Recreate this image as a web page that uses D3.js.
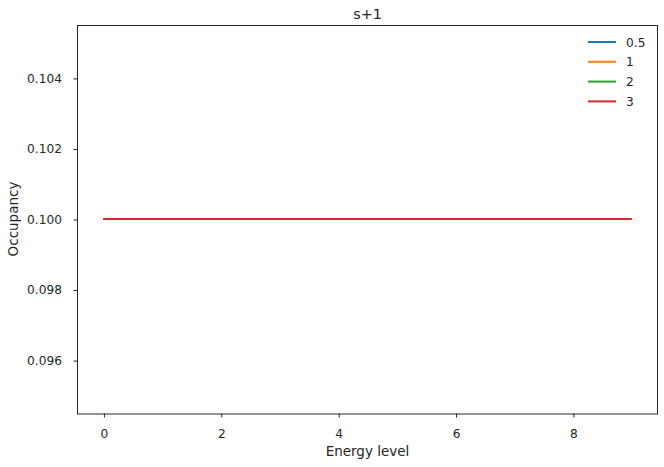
<!DOCTYPE html>
<html><head><meta charset="utf-8">
<script src="https://cdn.jsdelivr.net/npm/d3@7"></script>
<style>body{margin:0;background:#fff}svg text{font-family:"DejaVu Sans",sans-serif;fill:#262626}</style>
</head><body><svg id="c" width="664" height="467"></svg>
<script>
const energyLevels = [0,1,2,3,4,5,6,7,8,9];
const seriesNames = ["0.5","1","2","3"];
const s05 = [0.1,0.1,0.1,0.1,0.1,0.1,0.1,0.1,0.1,0.1];
const s1 = [0.1,0.1,0.1,0.1,0.1,0.1,0.1,0.1,0.1,0.1];
const s2 = [0.1,0.1,0.1,0.1,0.1,0.1,0.1,0.1,0.1,0.1];
const s3 = [0.1,0.1,0.1,0.1,0.1,0.1,0.1,0.1,0.1,0.1];
const xTicks = [0,2,4,6,8];
const yTicks = [0.096,0.098,0.100,0.102,0.104];
const colors = ["#1f77b4","#ff7f0e","#2ca02c","#d62728"];
const series = [s05,s1,s2,s3];

const svg = d3.select("#c");
const L=77,R=658,T=25,B=413;
const x = d3.scaleLinear().domain([-0.45,9.45]).range([L,R]);
const y = d3.scaleLinear().domain([0.0945,0.1055]).range([B,T]);

const line = d3.line().x((d,i)=>x(energyLevels[i])).y(d=>y(d));
series.forEach((s,i)=>{
  svg.append("path").attr("d",line(s)).attr("fill","none").attr("stroke",colors[i]).attr("stroke-width",2);
});

svg.append("rect").attr("x",L+0.5).attr("y",T+0.5).attr("width",R-L-1).attr("height",B-T+0.5).attr("fill","none").attr("stroke","#262626").attr("stroke-width",1);

const xa = svg.append("g").attr("transform",`translate(0.5,${B+0.5})`).call(d3.axisBottom(x).tickValues(xTicks).tickSize(4).tickPadding(12).tickFormat(d3.format("d")));
const ya = svg.append("g").attr("transform",`translate(${L+0.5},0.5)`).call(d3.axisLeft(y).tickValues(yTicks).tickSize(4).tickPadding(11.5).tickFormat(d3.format(".3f")));
[xa,ya].forEach(a=>{
  a.attr("font-size",null).attr("font-family",null);
  a.select(".domain").remove();
  a.selectAll("line").attr("stroke","#262626").attr("stroke-width",1);
  a.selectAll("text").attr("fill","#262626").style("font-size","12.2px");
});

svg.append("text").attr("x",(L+R)/2).attr("y",19).attr("text-anchor","middle").style("font-size","14.4px").text("s+1");
svg.append("text").attr("x",(L+R)/2).attr("y",456).attr("text-anchor","middle").style("font-size","13.5px").text("Energy level");
svg.append("text").attr("transform",`translate(18,${(T+B)/2}) rotate(-90)`).attr("text-anchor","middle").style("font-size","13.5px").text("Occupancy");

seriesNames.forEach((n,i)=>{
  const yy = 42 + i*19.8;
  svg.append("line").attr("x1",588).attr("x2",616).attr("y1",yy).attr("y2",yy).attr("stroke",colors[i]).attr("stroke-width",2);
  svg.append("text").attr("x",626).attr("y",yy+4.5).style("font-size","12.2px").text(n);
});
</script></body></html>
